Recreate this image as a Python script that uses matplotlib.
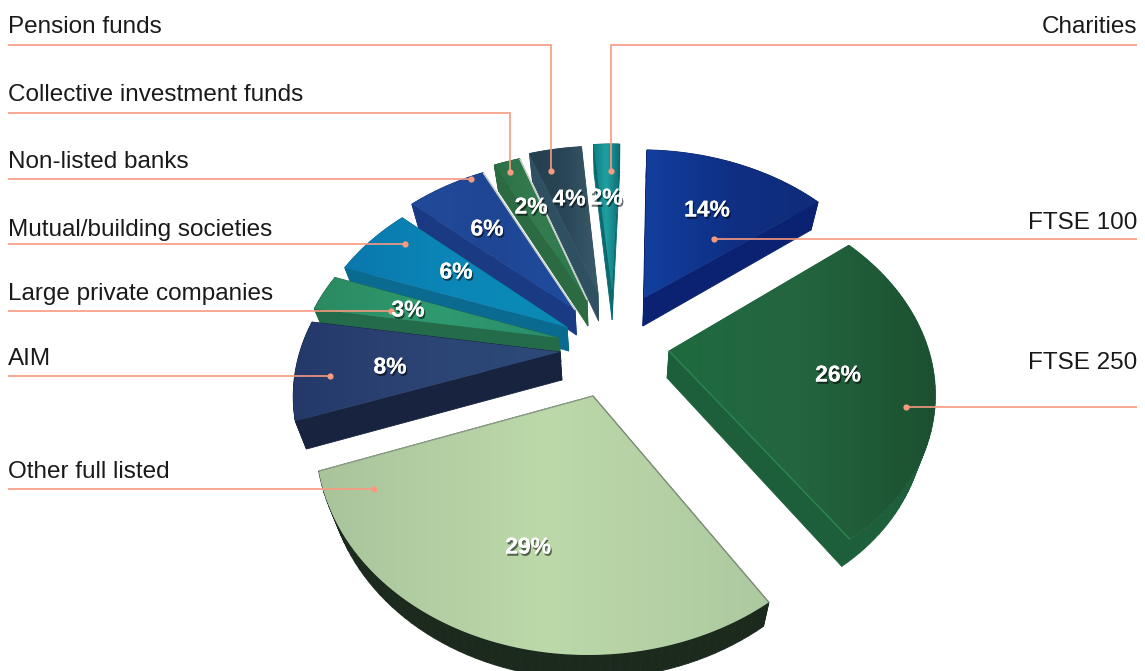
import numpy as np
import matplotlib
matplotlib.use("Agg")
import matplotlib.pyplot as plt
from matplotlib.patches import Polygon
from matplotlib.colors import LinearSegmentedColormap
import matplotlib.patheffects as pe

plt.rcParams['font.family'] = ['Liberation Sans', 'DejaVu Sans']

# ---- data (clockwise from 12 o'clock) ----
categories = ["FTSE 100", "FTSE 250", "Other full listed", "AIM",
              "Large private companies", "Mutual/building societies",
              "Non-listed banks", "Collective investment funds",
              "Pension funds", "Charities"]
shares = [14, 26, 29, 8, 3, 6, 6, 2, 4, 2]

# ---- layout ----
START_DEG = 2.0
# screen position of each slice's inner tip (the explosion of the pie)
tips = [(644, 298), (669, 351), (593, 396), (560, 352), (559, 338),
        (567, 327), (575, 310), (587, 300), (598, 293), (612, 290)]
pct_pos = [(707, 210), (838, 375), (528, 547), (390, 367), (408, 310),
           (456, 272), (487, 229), (531, 207), (569, 199), (606, 198)]
draw_order = [9, 8, 7, 6, 5, 4, 3, 0, 1, 2]
depth = [28, 27, 24, 28, 24, 24, 25, 26, 28, 30]
top_cols = [("#123f9e", "#0f2f85", "#0f2c78"),
            ("#1f6a40", "#23653f", "#1c5030"),
            ("#a9c49b", "#bcd9aa", "#adc9a0"),
            ("#24396a", "#2c4474", "#2b4a78"),
            ("#2b8a60", "#2f9a70", "#2a8c6a"),
            ("#0b78ad", "#0a87b8", "#0a8ab5"),
            ("#234a98", "#1f4695", "#1f4c9e"),
            ("#2d7047", "#347c50", "#2a7a4e"),
            ("#24404f", "#2a4656", "#3a5b6a"),
            ("#0e7f85", "#1fa0a0", "#0e6b75")]
side_cols = ["#0b2272", "#1c5f3a", "#1c2a1e", "#18233f", "#246b4a",
             "#0a6a90", "#1b3a84", "#2c6a42", "#2f5060", "#0b6a70"]
line_col = "#f79a7f"

# text side, text centre y, leader polyline
label_y = [223, 363, 472, 359, 294, 230, 162, 95, 27, 27]
label_side = ["r", "r", "l", "l", "l", "l", "l", "l", "l", "r"]
leaders = [[(1137, 239), (714, 239)],
           [(1137, 407), (906, 407)],
           [(8, 489), (374, 489)],
           [(8, 376), (330, 376)],
           [(8, 311), (391, 311)],
           [(8, 244), (405, 244)],
           [(8, 179), (471, 179)],
           [(8, 113), (510, 113), (510, 172)],
           [(8, 45), (551, 45), (551, 171)],
           [(1137, 45), (611, 45), (611, 171)]]

# perspective of the pie's plane
CX, CY, A, B, K = 615.0, 335.0, 256.0, 187.0, 0.18


def to_screen(x, y):
    w = 1 + K * y
    return CX + A * x / w, CY - B * y / w


def to_world(X, Y):
    u, v = (X - CX) / A, (CY - Y) / B
    y = v / (1 - K * v)
    return u * (1 + K * y), y


fig = plt.figure(figsize=(11.45, 6.71), dpi=100)
ax = fig.add_axes([0, 0, 1, 1])

edges = (np.concatenate([[0], np.cumsum(shares)]) / np.sum(shares) * 2 * np.pi
         + np.radians(START_DEG))
z = 1.0
for i in draw_order:
    x0, y0 = to_world(*tips[i])
    t = np.linspace(edges[i], edges[i + 1], 60)
    xs = np.concatenate([[x0], x0 + np.sin(t)])
    ys = np.concatenate([[y0], y0 + np.cos(t)])
    X, Y = to_screen(xs, ys)
    top = np.column_stack([X, Y])
    # extrusion: straight down, converging slightly to the centre line
    bot = np.column_stack([X - (X - CX) * 0.035, Y + depth[i]])
    n = len(top)
    for a in range(n):
        b = (a + 1) % n
        ax.add_patch(Polygon([top[a], top[b], bot[b], bot[a]], closed=True,
                             fc=side_cols[i], ec=side_cols[i], lw=0.6, zorder=z))
    z += 1
    poly = Polygon(top, closed=True, fc="none", ec="none", zorder=z)
    ax.add_patch(poly)
    cmap = LinearSegmentedColormap.from_list("g", top_cols[i])
    im = ax.imshow(np.linspace(0, 1, 128)[None, :], cmap=cmap, aspect="auto",
                   extent=(X.min(), X.max(), Y.max(), Y.min()), zorder=z,
                   interpolation="bilinear")
    im.set_clip_path(poly)
    z += 1
    # light rim along the radial edges of some slices
    rim_end = {1: "#2c8553", 2: "#8a9c84", 6: "#c9d0c8", 7: "#c9d0c8"}.get(i)
    if rim_end:
        ax.plot([top[0, 0], top[-1, 0]], [top[0, 1], top[-1, 1]], color=rim_end,
                lw=1.0, zorder=z, solid_capstyle="butt")
    if i == 2:
        ax.plot([top[0, 0], top[1, 0]], [top[0, 1], top[1, 1]], color="#7f8f7a",
                lw=1.0, zorder=z, solid_capstyle="butt")
    z += 1

# leaders
for pts in leaders:
    p = np.array(pts)
    ax.plot(p[:, 0], p[:, 1], color=line_col, lw=1.2, zorder=z,
            solid_joinstyle="miter", solid_capstyle="butt")
    ax.plot(p[-1, 0], p[-1, 1], "o", color=line_col, ms=4.5, mew=0, zorder=z)
z += 1

# category labels
for name, yy, side in zip(categories, label_y, label_side):
    ax.text(8 if side == "l" else 1137, yy, name, fontsize=17.5, color="#1a1a1a",
            ha="left" if side == "l" else "right", va="center", zorder=z)

# percentage labels
shadow = [pe.withSimplePatchShadow(offset=(1.0, -1.6), shadow_rgbFace="black",
                                   alpha=0.55), pe.Normal()]
for s, (px, py) in zip(shares, pct_pos):
    ax.text(px, py, f"{s}%", fontsize=16.5, fontweight="bold", color="white",
            ha="center", va="center", zorder=z + 1, path_effects=shadow)

ax.set_xlim(0, 1145)
ax.set_ylim(671, 0)
ax.axis("off")
fig.savefig("out.png", dpi=100, facecolor="white")
